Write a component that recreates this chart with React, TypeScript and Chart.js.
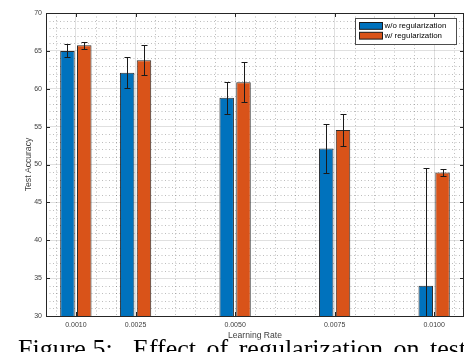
import React, { useEffect, useRef } from "react";
import { Chart, registerables } from "chart.js";

Chart.register(...registerables);

// ---- data ----
const learningRates = [0.001, 0.0025, 0.005, 0.0075, 0.01];
const xTickLabels = ["0.0010", "0.0025", "0.0050", "0.0075", "0.0100"];
const noRegMean = [65.0, 62.1, 58.8, 52.1, 34.0];
const noRegErr = [0.85, 2.05, 2.1, 3.2, 15.5];
const regMean = [65.75, 63.75, 60.85, 54.55, 48.95];
const regErr = [0.45, 2.0, 2.65, 2.15, 0.5];
const seriesNames = ["w/o regularization", "w/ regularization"];
const seriesColors = ["#0072BD", "#D95319"];
const xLabel = "Learning Rate";
const yLabel = "Test Accuracy";
const captionLead = "Figure 5:";
const captionRest = "Effect of regularization on test";

const AXIS = "#262626";
const FONT = '"Liberation Sans", Arial, sans-serif';

const matlabPlugin = {
  id: "matlabDecor",
  beforeDatasetsDraw(chart: any) {
    const { ctx, chartArea: a, scales } = chart;
    const x = scales.x, y = scales.y;
    ctx.save();
    ctx.beginPath();
    ctx.rect(a.left, a.top, a.right - a.left, a.bottom - a.top);
    ctx.clip();
    ctx.strokeStyle = "rgba(38,38,38,0.3)";
    ctx.lineWidth = 1;
    ctx.setLineDash([1, 2.5]);
    for (let k = 1; k <= 21; k++) {
      const v = k * 0.0005;
      if (learningRates.some((m) => Math.abs(m - v) < 1e-9)) continue;
      const px = Math.round(x.getPixelForValue(v)) + 0.5;
      ctx.beginPath();
      ctx.moveTo(px, a.top);
      ctx.lineTo(px, a.bottom);
      ctx.stroke();
    }
    for (let v = 31; v < 70; v++) {
      if (v % 5 === 0) continue;
      const py = Math.round(y.getPixelForValue(v)) + 0.5;
      ctx.beginPath();
      ctx.moveTo(a.left, py);
      ctx.lineTo(a.right, py);
      ctx.stroke();
    }
    ctx.restore();
  },
  afterDatasetsDraw(chart: any) {
    const { ctx, chartArea: a, scales } = chart;
    const y = scales.y;
    const means = [noRegMean, regMean];
    const errs = [noRegErr, regErr];
    ctx.save();
    ctx.beginPath();
    ctx.rect(a.left, a.top, a.right - a.left, a.bottom - a.top);
    ctx.clip();
    ctx.strokeStyle = "#1a1a1a";
    ctx.lineWidth = 1;
    for (let d = 0; d < 2; d++) {
      const meta = chart.getDatasetMeta(d);
      meta.data.forEach((bar: any, i: number) => {
        const cx = Math.round(bar.x) + 0.5;
        const top = Math.round(y.getPixelForValue(means[d][i] + errs[d][i])) + 0.5;
        const bot = Math.round(y.getPixelForValue(means[d][i] - errs[d][i])) + 0.5;
        ctx.beginPath();
        ctx.moveTo(cx, top);
        ctx.lineTo(cx, bot);
        ctx.moveTo(cx - 3, top);
        ctx.lineTo(cx + 3, top);
        ctx.moveTo(cx - 3, bot);
        ctx.lineTo(cx + 3, bot);
        ctx.stroke();
      });
    }
    ctx.restore();
  },
  afterDraw(chart: any) {
    const { ctx, chartArea: a, scales } = chart;
    const x = scales.x, y = scales.y;
    ctx.save();
    ctx.strokeStyle = AXIS;
    ctx.lineWidth = 1;
    const t = Math.round(a.top) + 0.5;
    const r = Math.round(a.right) - 0.5;
    ctx.beginPath();
    ctx.moveTo(a.left, t);
    ctx.lineTo(a.right, t);
    ctx.moveTo(r, a.top);
    ctx.lineTo(r, a.bottom);
    ctx.stroke();
    const tl = 4;
    ctx.beginPath();
    learningRates.forEach((v) => {
      const px = Math.round(x.getPixelForValue(v)) + 0.5;
      ctx.moveTo(px, a.bottom);
      ctx.lineTo(px, a.bottom - tl);
      ctx.moveTo(px, a.top);
      ctx.lineTo(px, a.top + tl);
    });
    for (let v = 35; v < 70; v += 5) {
      const py = Math.round(y.getPixelForValue(v)) + 0.5;
      ctx.moveTo(a.left, py);
      ctx.lineTo(a.left + tl, py);
      ctx.moveTo(a.right, py);
      ctx.lineTo(a.right - tl, py);
    }
    ctx.stroke();
    // legend
    const lx = 355.5, ly = 18.5, lw = 101, lh = 26;
    ctx.fillStyle = "#ffffff";
    ctx.fillRect(lx, ly, lw, lh);
    ctx.strokeStyle = "#4d4d4d";
    ctx.strokeRect(lx, ly, lw, lh);
    const rows = [25.8, 35.6];
    ctx.font = `7.9px ${FONT}`;
    ctx.textBaseline = "middle";
    ctx.textAlign = "left";
    for (let i = 0; i < 2; i++) {
      ctx.fillStyle = seriesColors[i];
      ctx.fillRect(359.5, rows[i] - 3.3, 23, 6.8);
      ctx.strokeStyle = "#1a1a1a";
      ctx.strokeRect(359.5, rows[i] - 3.3, 23, 6.8);
      ctx.fillStyle = "#000";
      ctx.fillText(seriesNames[i], 384.5, rows[i]);
    }
    ctx.restore();
  },
};

export default function App() {
  const ref = useRef<HTMLCanvasElement | null>(null);
  useEffect(() => {
    if (!ref.current) return;
    const chart = new Chart(ref.current, {
      type: "bar",
      data: {
        datasets: [
          {
            label: seriesNames[0],
            data: learningRates.map((v, i) => ({ x: v, y: noRegMean[i] })),
            backgroundColor: seriesColors[0],
            borderColor: "rgba(20,20,20,0.9)",
            borderWidth: 1,
          },
          {
            label: seriesNames[1],
            data: learningRates.map((v, i) => ({ x: v, y: regMean[i] })),
            backgroundColor: seriesColors[1],
            borderColor: "rgba(20,20,20,0.9)",
            borderWidth: 1,
          },
        ],
      },
      options: {
        responsive: false,
        animation: false,
        devicePixelRatio: 1,
        categoryPercentage: 0.563,
        barPercentage: 0.863,
        layout: { padding: { top: 13, right: 2, left: 0, bottom: 0 } },
        plugins: { legend: { display: false }, tooltip: { enabled: false } },
        scales: {
          x: {
            type: "linear",
            min: 0.00025,
            max: 0.01075,
            offset: false,
            grid: { offset: false, color: "rgba(38,38,38,0.14)", drawTicks: false },
            border: { color: AXIS, width: 1 },
            afterBuildTicks: (scale: any) => {
              scale.ticks = learningRates.map((v) => ({ value: v }));
            },
            afterFit: (scale: any) => {
              scale.height = 36;
            },
            ticks: {
              autoSkip: false,
              maxRotation: 0,
              padding: 5,
              color: "#404040",
              font: { family: FONT, size: 7 },
              callback: (_v: any, i: number) => xTickLabels[i],
            },
            title: {
              display: true,
              text: xLabel,
              color: "#404040",
              font: { family: FONT, size: 8.6 },
              padding: { top: 0, bottom: 11 },
            },
          },
          y: {
            min: 30,
            max: 70,
            grid: { color: "rgba(38,38,38,0.14)", drawTicks: false },
            border: { color: AXIS, width: 1 },
            afterFit: (scale: any) => {
              scale.width = 46;
            },
            ticks: {
              stepSize: 5,
              padding: 4,
              color: "#404040",
              font: { family: FONT, size: 7 },
            },
            title: {
              display: true,
              text: yLabel,
              color: "#404040",
              font: { family: FONT, size: 8.6 },
              padding: { top: 23, bottom: 0 },
            },
          },
        },
      },
      plugins: [matlabPlugin],
    } as any);
    return () => chart.destroy();
  }, []);

  const captionStyle: React.CSSProperties = {
    position: "absolute",
    top: 336,
    fontFamily: '"Liberation Serif", "Times New Roman", serif',
    fontSize: 26,
    lineHeight: "26px",
    whiteSpace: "nowrap",
    color: "#000",
  };

  return (
    <div
      style={{
        position: "fixed",
        left: 0,
        top: 0,
        width: 464,
        height: 352,
        overflow: "hidden",
        background: "#fff",
      }}
    >
      <canvas ref={ref} width={466} height={352} style={{ display: "block" }} />
      <div style={{ ...captionStyle, left: 18 }}>{captionLead}</div>
      <div style={{ ...captionStyle, left: 133, wordSpacing: 4 }}>{captionRest}</div>
    </div>
  );
}
